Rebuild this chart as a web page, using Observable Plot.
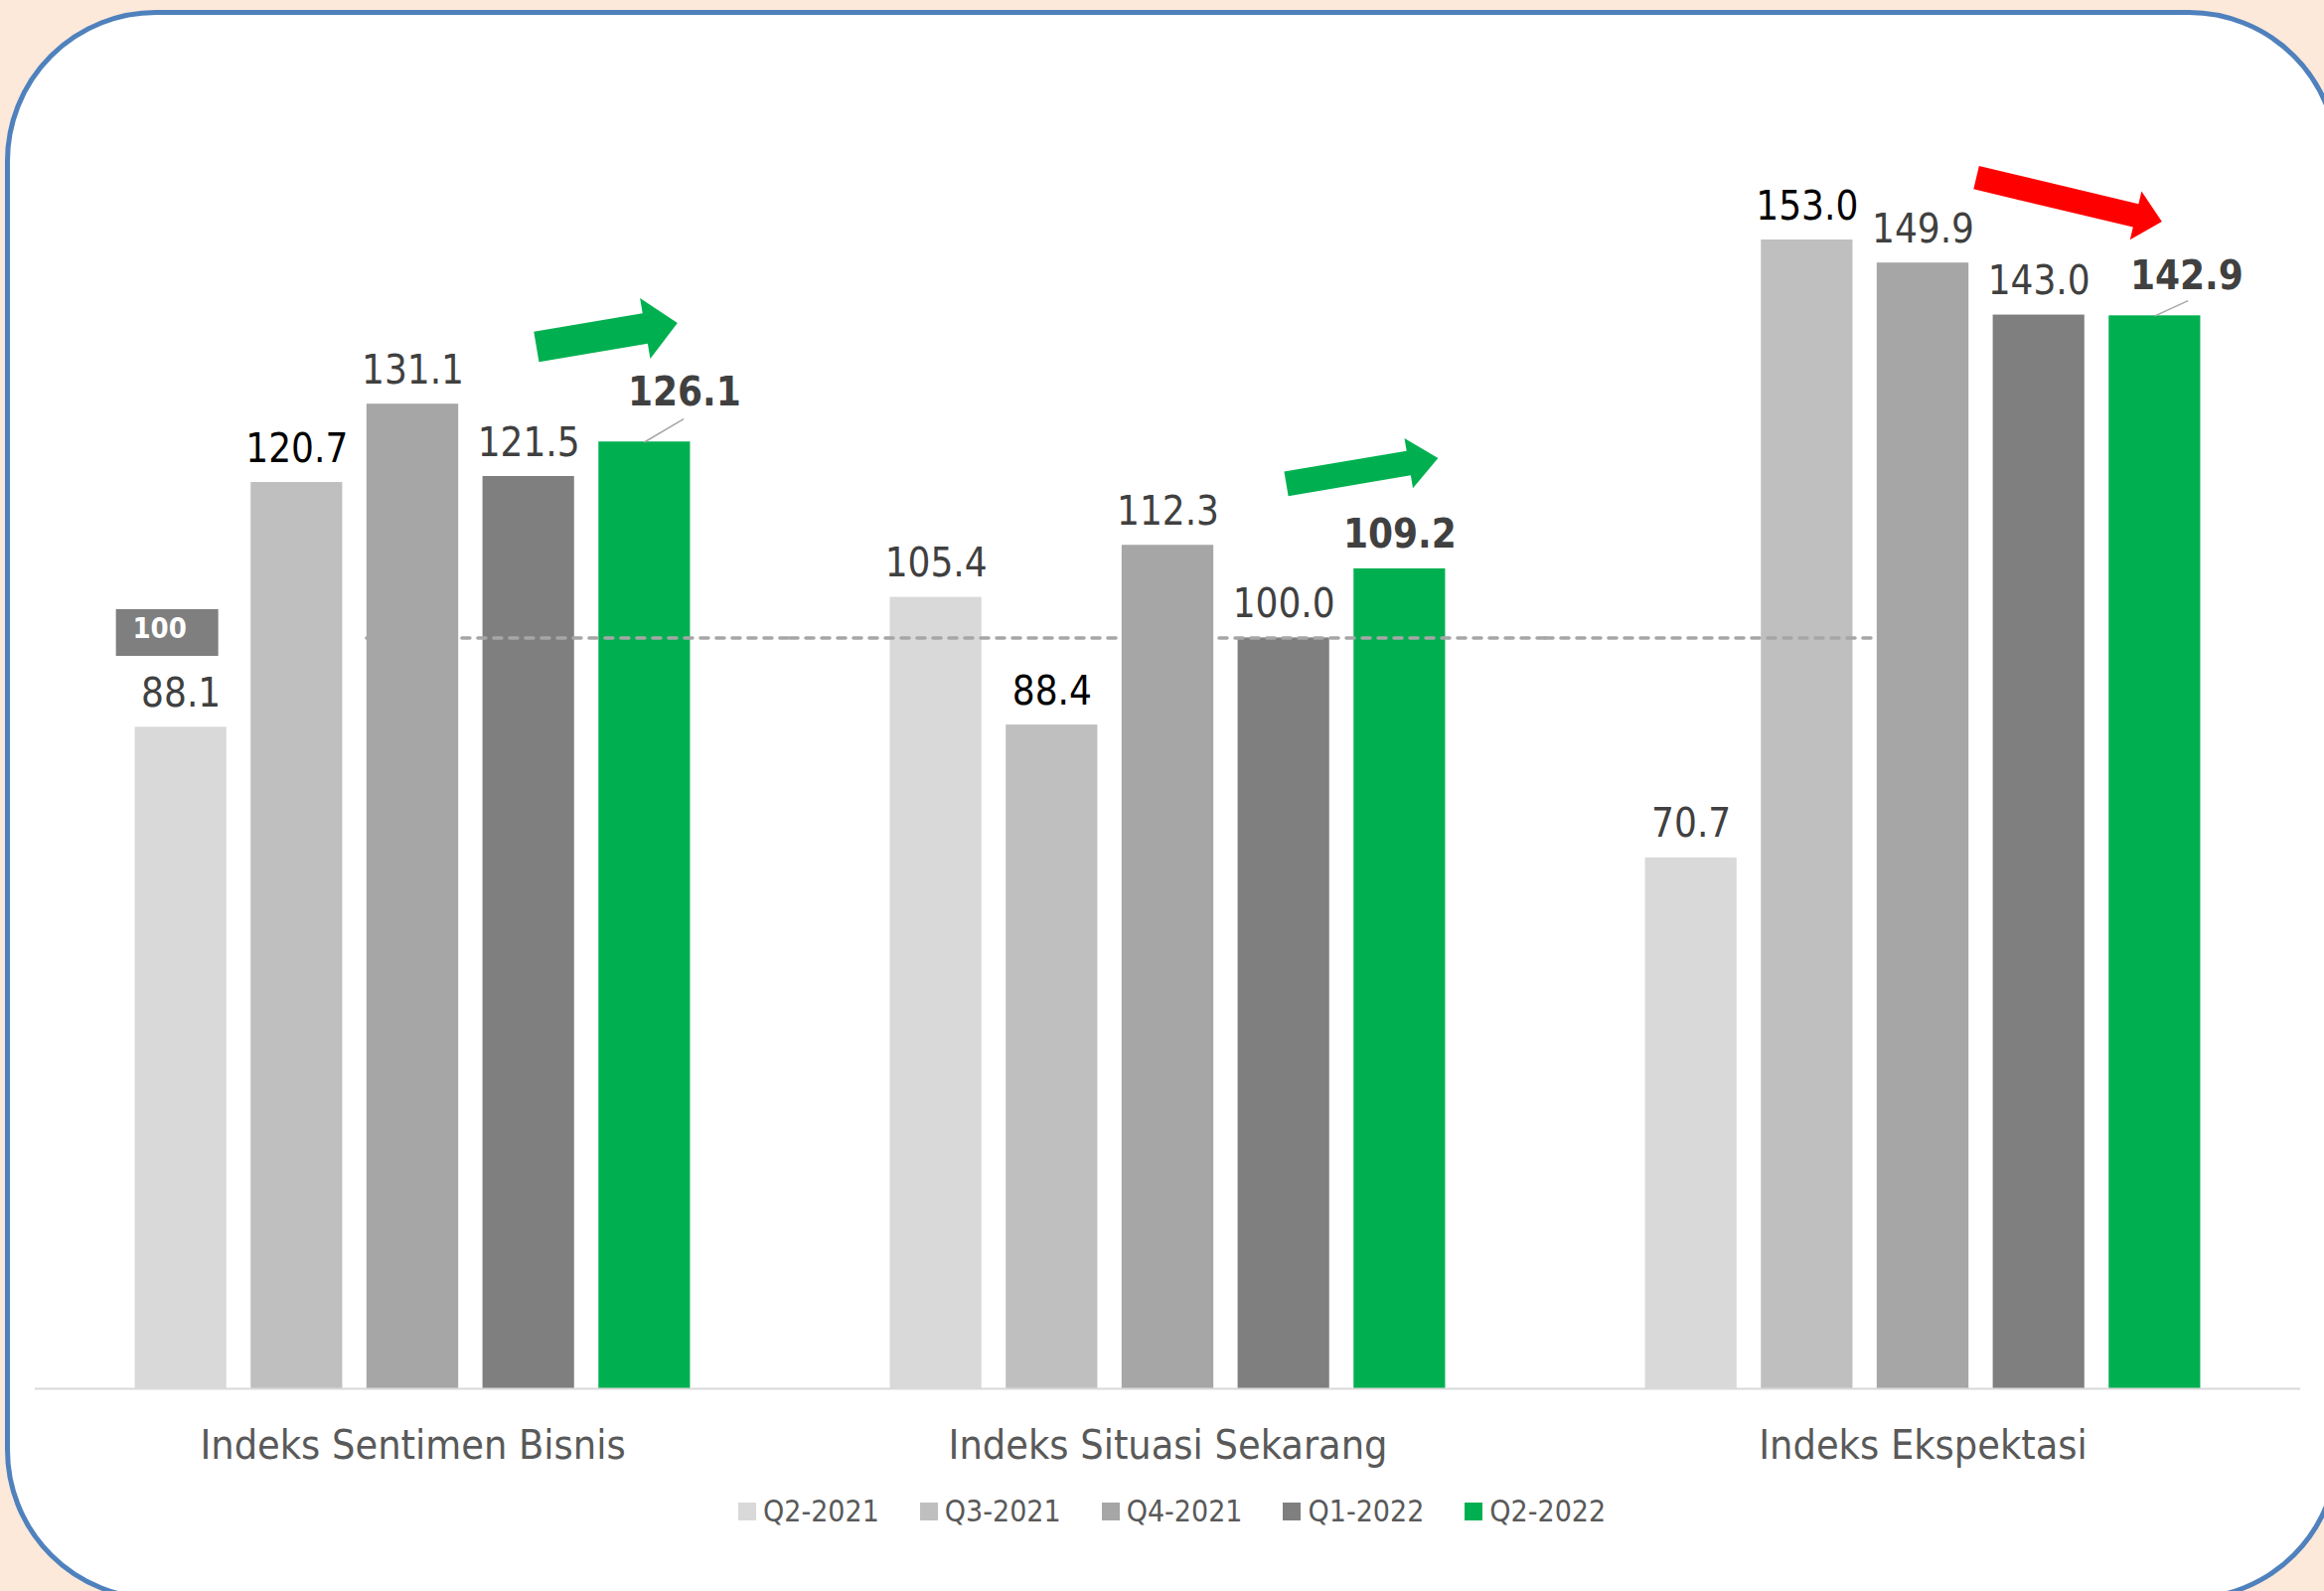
<!DOCTYPE html>
<html>
<head>
<meta charset="utf-8">
<script src="https://cdn.jsdelivr.net/npm/d3@7"></script>
<script src="https://cdn.jsdelivr.net/npm/@observablehq/plot@0.6"></script>
<style>
  html, body { margin: 0; padding: 0; }
  body { width: 2339px; height: 1601px; overflow: hidden; background: #fde9da; position: relative;
         font-family: 'DejaVu Sans Condensed', 'DejaVu Sans', sans-serif; }
  #box { position: absolute; left: 5px; top: 10px; width: 2350px; height: 1601px; box-sizing: border-box;
         border: 5px solid #4f81bd; border-radius: 152px; background: #ffffff; }
  #chart { position: absolute; left: 0; top: 0; }
  #legend { position: absolute; left: 743px; top: 1503px; display: flex; align-items: center; }
  .item { display: flex; align-items: center; margin-right: 41px; font-size: 30px; color: #595959; }
  .sw { width: 18px; height: 18px; margin-right: 7px; }
</style>
</head>
<body>
<div id="box"></div>
<div id="chart"></div>
<div id="legend"></div>
<script>
// ---- data ----
const groups = ["Indeks Sentimen Bisnis", "Indeks Situasi Sekarang", "Indeks Ekspektasi"];
const series = ["Q2-2021", "Q3-2021", "Q4-2021", "Q1-2022", "Q2-2022"];
const q2_2021 = [88.1, 105.4, 70.7];
const q3_2021 = [120.7, 88.4, 153.0];
const q4_2021 = [131.1, 112.3, 149.9];
const q1_2022 = [121.5, 100.0, 143.0];
const q2_2022 = [126.1, 109.2, 142.9];
const colors = ["#d9d9d9", "#bfbfbf", "#a6a6a6", "#7f7f7f", "#00b050"];
const reference = 100;

const valuesBySeries = [q2_2021, q3_2021, q4_2021, q1_2022, q2_2022];
const table = groups.flatMap((g, i) => series.map((s, j) => ({g, s, v: valuesBySeries[j][i]})));

const FONT = "'DejaVu Sans Condensed', 'DejaVu Sans', sans-serif";
const last = series[4];
const pick = (gi, s) => table.filter(d => d.g === groups[gi] && d.s === s);

function blockArrow(shaft, head, headLen) {
  return {
    draw(ctx, l) {
      const b = l - headLen;
      ctx.moveTo(-shaft / 2, 0);
      ctx.lineTo(-shaft / 2, -b);
      ctx.lineTo(-head / 2, -b);
      ctx.lineTo(0, -l);
      ctx.lineTo(head / 2, -b);
      ctx.lineTo(shaft / 2, -b);
      ctx.lineTo(shaft / 2, 0);
      ctx.closePath();
    }
  };
}
const leader = { draw(ctx, l) { ctx.moveTo(0, 0); ctx.lineTo(0, -l); } };
const boxSymbol = { draw(ctx) { ctx.rect(-51.5, -23.5, 103, 47); } };

const labelBase = {fx: "g", x: "s", y: "v", text: d => d.v.toFixed(1), lineAnchor: "bottom", fontSize: 40};
const dashStyle = {stroke: "#a6a6a6", strokeWidth: 3.5, strokeDasharray: "8,8", strokeLinecap: "round"};
const outerGap = 100.6; // outer padding of the inner band scale, so the line reaches the facet edge

const chart = Plot.plot({
  width: 2339,
  height: 1480,
  marginLeft: 35,
  marginRight: 24,
  marginTop: 37,
  marginBottom: 83,
  style: {background: "transparent", fontFamily: FONT, overflow: "visible"},
  fx: {domain: groups, padding: 0, axis: null, round: false},
  x: {domain: series, paddingInner: 0.21, paddingOuter: 0.862, axis: null, round: false},
  y: {domain: [0, 180], axis: null},
  color: {domain: series, range: colors},
  marks: [
    Plot.barY(table, {fx: "g", x: "s", y: "v", fill: "s"}),
    // reference line at 100 (runs behind the Q4-2021 bars)
    Plot.ruleY([{g: groups[0], y: reference}], {fx: "g", y: "y", x1: () => series[2], x2: () => series[4], insetRight: -outerGap, ...dashStyle}),
    Plot.ruleY([{g: groups[1], y: reference}], {fx: "g", y: "y", ...dashStyle}),
    Plot.ruleY([{g: groups[2], y: reference}], {fx: "g", y: "y", x1: () => series[0], x2: () => series[2], insetLeft: -outerGap, ...dashStyle}),
    Plot.barY(table.filter(d => d.s === series[2]), {fx: "g", x: "s", y: "v", fill: "s"}),
    Plot.ruleY([0], {stroke: "#d9d9d9", strokeWidth: 2}),
    // value labels
    Plot.text(table.filter(d => d.s === series[1]), {...labelBase, dy: -21, fill: "#000000"}),
    Plot.text(table.filter(d => d.s === series[0] || d.s === series[2] || d.s === series[3]), {...labelBase, dy: -21, fill: "#404040"}),
    Plot.text(pick(0, last), {...labelBase, dx: 40, dy: -37, fill: "#404040", fontWeight: "bold"}),
    Plot.text(pick(1, last), {...labelBase, dy: -21, fill: "#404040", fontWeight: "bold"}),
    Plot.text(pick(2, last), {...labelBase, dx: 32, dy: -27, fill: "#404040", fontWeight: "bold"}),
    // leader lines
    Plot.vector(pick(0, last), {fx: "g", x: "s", y: "v", length: 45, rotate: 59.5, anchor: "start", shape: leader, stroke: "#a6a6a6", strokeWidth: 1.5}),
    Plot.vector(pick(2, last), {fx: "g", x: "s", y: "v", length: 36, rotate: 65.6, anchor: "start", shape: leader, stroke: "#a6a6a6", strokeWidth: 1.5}),
    // "100" tag
    Plot.dot([{g: groups[0], s: series[0], y: reference}], {fx: "g", x: "s", y: "y", r: 1, symbol: boxSymbol, fill: "#7f7f7f", stroke: "none", dx: -14, dy: -5.5}),
    Plot.text([{g: groups[0], s: series[0], y: reference}], {fx: "g", x: "s", y: "y", text: () => String(reference), textAnchor: "start", lineAnchor: "bottom", dx: -48.7, fill: "#ffffff", fontWeight: "bold", fontSize: 29}),
    // trend arrows
    Plot.vector(pick(0, last), {fx: "g", x: "s", y: "v", length: 144, rotate: 80.4, anchor: "end", dx: 33, dy: -119.7, shape: blockArrow(31, 62, 33), fill: "#00b050", stroke: "none"}),
    Plot.vector(pick(1, last), {fx: "g", x: "s", y: "v", length: 155, rotate: 80.4, anchor: "end", dx: 38.5, dy: -111.4, shape: blockArrow(25, 51, 30), fill: "#00b050", stroke: "none"}),
    Plot.vector(pick(2, last), {fx: "g", x: "s", y: "v", length: 192, rotate: 103.4, anchor: "end", dx: 7, dy: -94.7, shape: blockArrow(24, 50, 27), fill: "#ff0000", stroke: "none"}),
    // category labels
    Plot.text(groups, {fx: d => d, text: d => d, frameAnchor: "bottom", lineAnchor: "bottom", dy: 70, fontSize: 41, fill: "#595959"})
  ]
});
document.getElementById("chart").appendChild(chart);

// legend
const legend = document.getElementById("legend");
series.forEach((s, i) => {
  const item = document.createElement("div");
  item.className = "item";
  const sw = document.createElement("span");
  sw.className = "sw";
  sw.style.background = colors[i];
  const t = document.createElement("span");
  t.textContent = s;
  item.appendChild(sw);
  item.appendChild(t);
  legend.appendChild(item);
});
</script>
</body>
</html>
